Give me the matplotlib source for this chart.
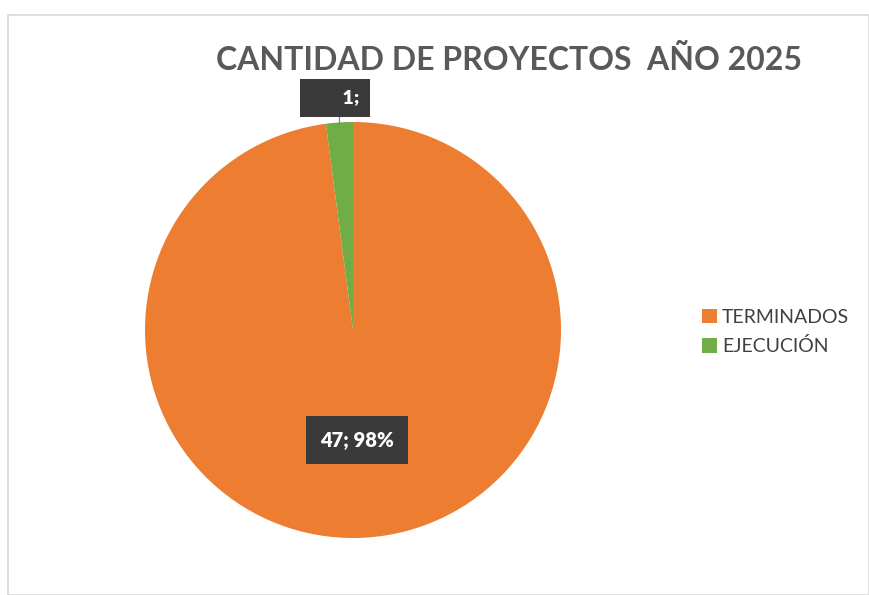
import numpy as np
import matplotlib.pyplot as plt
from matplotlib.patches import Rectangle

# Datos del gráfico
categorias = ['TERMINADOS', 'EJECUCIÓN']
valores = [47, 1]
colores = ['#ED7D31', '#70AD47']
etiquetas = ['47; 98%', '1;']

W, H = 869, 595
fig = plt.figure(figsize=(W / 100, H / 100), dpi=100)
fig.patch.set_facecolor('white')

# Borde del área del gráfico
fig.patches.append(Rectangle((8 / W, 0), (W - 8) / W, (H - 15) / H, transform=fig.transFigure,
                             fill=False, edgecolor='#d9d9d9', linewidth=1.2))

# Eje del pastel: centro (353, 330), radio 208 px
cx, cy, r = 353, 330, 208
ax = fig.add_axes([(cx - r) / W, (H - cy - r) / H, 2 * r / W, 2 * r / H])
wedges, _ = ax.pie(valores, colors=colores, startangle=90, counterclock=False,
                   wedgeprops=dict(linewidth=0))
ax.set_xlim(-1, 1)
ax.set_ylim(-1, 1)
ax.axis('off')

# Etiquetas de datos
box = dict(boxstyle='square,pad=0.7', facecolor='#3a3a3a', edgecolor='none')
w0 = wedges[0]
ang = np.deg2rad((w0.theta1 + w0.theta2) / 2)
ax.text(0.53 * np.cos(ang) - 0.015, 0.53 * np.sin(ang), etiquetas[0], ha='center', va='center',
        color='white', fontsize=14.5, fontweight='heavy', family='Lato', bbox=box)

w1 = wedges[1]
ang1 = np.deg2rad((w1.theta1 + w1.theta2) / 2)
x1 = np.cos(ang1)
ax.plot([x1, x1], [0.99, 1.06], color='#7f7f7f', linewidth=0.8, clip_on=False)
ax.text(x1 - 0.02, 1.115, '       ' + etiquetas[1], ha='center', va='center',
        color='white', fontsize=14, fontweight='heavy', family='Lato',
        bbox=dict(boxstyle='square,pad=0.55', facecolor='#3a3a3a', edgecolor='none'),
        clip_on=False)

# Título
fig.text(509 / W, 1 - 60 / H, 'CANTIDAD DE PROYECTOS  AÑO 2025', ha='center', va='center',
         fontsize=23, color='#595959', fontweight='bold', family='Lato')

# Leyenda
leg = fig.legend(wedges, categorias, loc='center left', bbox_to_anchor=(684 / W, 1 - 332 / H),
                 frameon=False, handlelength=0.8, handleheight=0.8,
                 handletextpad=0.25, labelspacing=0.6, prop={'family': 'Lato', 'size': 14})
for t in leg.get_texts():
    t.set_color('#404040')

fig.savefig('out.png', dpi=100)
